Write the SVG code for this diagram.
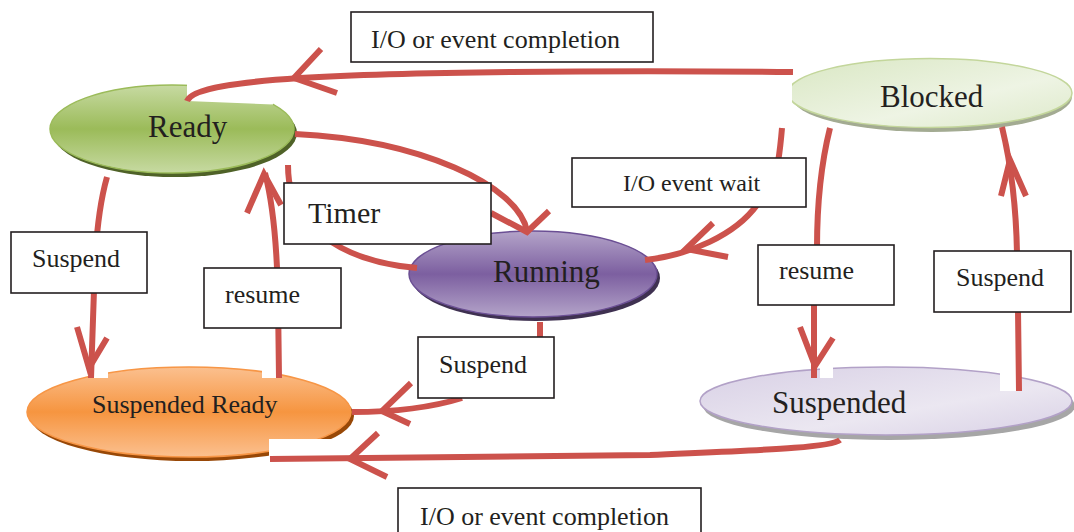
<svg xmlns="http://www.w3.org/2000/svg" width="1074" height="532" viewBox="0 0 1074 532">
<defs>
<linearGradient id="gReady" x1="0" y1="0" x2="0" y2="1">
<stop offset="0" stop-color="#c7daa2"/><stop offset="0.5" stop-color="#9bbb59"/><stop offset="1" stop-color="#c7daa2"/>
</linearGradient>
<linearGradient id="gRun" x1="0" y1="0" x2="0" y2="1">
<stop offset="0" stop-color="#b4a4c9"/><stop offset="0.5" stop-color="#7c5fa0"/><stop offset="1" stop-color="#b4a4c9"/>
</linearGradient>
<linearGradient id="gSR" x1="0" y1="0" x2="0" y2="1">
<stop offset="0" stop-color="#fbc08f"/><stop offset="0.5" stop-color="#f69540"/><stop offset="1" stop-color="#fbc08f"/>
</linearGradient>
<linearGradient id="gBlk" x1="0" y1="0" x2="1" y2="1">
<stop offset="0" stop-color="#d9e7c3"/><stop offset="0.6" stop-color="#eef4e4"/><stop offset="1" stop-color="#dde9c9"/>
</linearGradient>
<linearGradient id="gSus" x1="0" y1="0" x2="1" y2="1">
<stop offset="0" stop-color="#d8d0e5"/><stop offset="0.6" stop-color="#ebe7f1"/><stop offset="1" stop-color="#d8d0e5"/>
</linearGradient>
</defs>
<style>
.lbl{fill:#fff;stroke:#231f20;stroke-width:1.6}
.t{font-family:"Liberation Serif","Times New Roman",serif;fill:#231f20}
.c{fill:none;stroke:#cc524c;stroke-width:6}
.w{fill:#fff}
</style>

<g id="ready">
<ellipse cx="175" cy="133" rx="122" ry="44" fill="#4f6228"/>
<ellipse cx="172" cy="129" rx="122" ry="44" fill="url(#gReady)" stroke="#9bbb59" stroke-width="1.5"/>
<polygon class="w" points="187,82 276,82 273,104.5 187,101"/>
<text class="t" x="148" y="137" font-size="31">Ready</text>
</g>

<g id="blocked">
<ellipse cx="932" cy="97" rx="140" ry="35" fill="#a3ab92"/>
<ellipse cx="930" cy="93" rx="142" ry="34.5" fill="url(#gBlk)" stroke="#c3d69b" stroke-width="1.5"/>
<rect class="w" x="776" y="56" width="16" height="80"/>
<text class="t" x="880" y="107" font-size="31">Blocked</text>
</g>

<g id="running">
<ellipse cx="536" cy="278" rx="124" ry="43" fill="#3f3151"/>
<ellipse cx="533" cy="274" rx="124" ry="43" fill="url(#gRun)" stroke="#6b4f94" stroke-width="1.5"/>
<text class="t" x="493" y="282" font-size="31">Running</text>
</g>

<g id="suspended-ready">
<ellipse cx="192" cy="416" rx="162" ry="45" fill="#984807"/>
<ellipse cx="189" cy="412" rx="162" ry="45" fill="url(#gSR)" stroke="#f79646" stroke-width="1.5"/>
<rect class="w" x="93" y="362" width="15" height="16"/>
<rect class="w" x="262" y="362" width="15" height="16"/>
<rect class="w" x="269" y="439" width="86" height="18"/>
<text class="t" x="92" y="413" font-size="26">Suspended Ready</text>
</g>

<g id="suspended">
<ellipse cx="889" cy="406" rx="186" ry="34" fill="#a6a6a6"/>
<ellipse cx="886" cy="401" rx="186" ry="34" fill="url(#gSus)" stroke="#b2a1c7" stroke-width="1.5"/>
<rect class="w" x="820" y="362" width="13" height="16"/>
<rect class="w" x="1000" y="362" width="16" height="29"/>
<text class="t" x="772" y="413" font-size="31">Suspended</text>
</g>

<g id="connectors">
<path class="c" d="M793,72 C600,70 400,72 300,78 C240,82 192,88 187,101"/>
<path class="c" d="M321,49 L294,78 L337,93"/>
<path class="c" d="M295,134 C420,140 518,185 527,231"/>
<path class="c" d="M491,213 L527,232 L549,211"/>
<path class="c" d="M417,268 C370,264 335,250 310,225 C292,205 288,185 288,165"/>
<path class="c" d="M279,378 L278,300 C277,240 272,200 265,173"/>
<path class="c" d="M247,213 L264,174 L281,205"/>
<path class="c" d="M107,177 C99,205 95,240 94,290 L91,378"/>
<path class="c" d="M77,327 L89,368 L107,338"/>
<path class="c" d="M540,322 L540,345 M462,398 C430,408 390,412 352,412"/>
<path class="c" d="M411,383 L382,411 L410,424"/>
<path class="c" d="M840,440 C830,448 760,450 650,455 L270,459"/>
<path class="c" d="M378,433 L350,459 L387,477"/>
<path class="c" d="M782,128 C781,140 780,150 778,162 M757,205 C735,235 690,255 645,260"/>
<path class="c" d="M713,223 L686,249 L728,257"/>
<path class="c" d="M830,128 C822,160 817,200 817,248 M814,303 L814,378"/>
<path class="c" d="M800,327 L815,366 L833,338"/>
<path class="c" d="M1019,391 L1018,310 M1017,253 C1016,200 1010,160 1002,127"/>
<path class="c" d="M1001,196 L1010,160 L1026,196"/>
</g>

<g id="label-io-top">
<rect class="lbl" x="351" y="12" width="302" height="50"/>
<text class="t" x="371" y="48" font-size="26">I/O or event completion</text>
</g>
<g id="label-timer">
<rect class="lbl" x="284" y="183" width="207" height="61"/>
<text class="t" x="308" y="223" font-size="30">Timer</text>
</g>
<g id="label-io-wait">
<rect class="lbl" x="572" y="158" width="234" height="49"/>
<text class="t" x="623" y="191" font-size="24">I/O event wait</text>
</g>
<g id="label-suspend-left">
<rect class="lbl" x="11" y="232" width="136" height="61"/>
<text class="t" x="32" y="267" font-size="26">Suspend</text>
</g>
<g id="label-resume-left">
<rect class="lbl" x="204" y="268" width="137" height="60"/>
<text class="t" x="225" y="303" font-size="26">resume</text>
</g>
<g id="label-suspend-mid">
<rect class="lbl" x="418" y="337" width="136" height="61"/>
<text class="t" x="439" y="373" font-size="26">Suspend</text>
</g>
<g id="label-resume-right">
<rect class="lbl" x="758" y="245" width="136" height="60"/>
<text class="t" x="779" y="279" font-size="26">resume</text>
</g>
<g id="label-suspend-right">
<rect class="lbl" x="934" y="251" width="137" height="61"/>
<text class="t" x="956" y="286" font-size="26">Suspend</text>
</g>
<g id="label-io-bottom">
<rect class="lbl" x="398" y="488" width="303" height="60"/>
<text class="t" x="420" y="525" font-size="26">I/O or event completion</text>
</g>
</svg>
